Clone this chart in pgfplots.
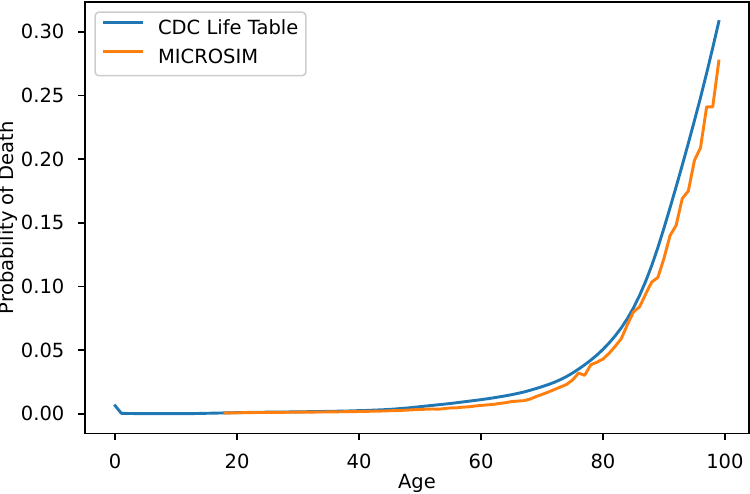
\documentclass[border=0pt]{standalone}
\usepackage{fontspec}
\setmainfont[Scale=1.04]{DejaVu Sans}
\usepackage{pgfplots}
\usepackage{pgfplotstable}
\pgfplotsset{compat=1.18}

\definecolor{tabblue}{HTML}{1F77B4}
\definecolor{taborange}{HTML}{FF7F0E}

% CDC life table, probability of death by age
\pgfplotstableread{
age q
0 0.0063
1 0.0004
2 0.00025
3 0.0002
4 0.00016
5 0.00015
6 0.00014
7 0.00013
8 0.00012
9 0.00011
10 0.00011
11 0.00012
12 0.00015
13 0.0002
14 0.0003
15 0.0004
16 0.0005
17 0.0006
18 0.0007
19 0.0008
20 0.0009
21 0.0010
22 0.0011
23 0.0012
24 0.0012
25 0.0013
26 0.0013
27 0.0014
28 0.0014
29 0.0015
30 0.0015
31 0.0016
32 0.0017
33 0.0017
34 0.0018
35 0.0019
36 0.0020
37 0.0021
38 0.0022
39 0.0023
40 0.0025
41 0.0026
42 0.0028
43 0.0030
44 0.0032
45 0.0035
46 0.0038
47 0.0042
48 0.0046
49 0.0051
50 0.0056
51 0.0061
52 0.0066
53 0.0071
54 0.0076
55 0.0081
56 0.0087
57 0.0093
58 0.0099
59 0.0105
60 0.0111
61 0.0118
62 0.0125
63 0.0133
64 0.0141
65 0.0150
66 0.0160
67 0.0171
68 0.0184
69 0.0198
70 0.0213
71 0.0229
72 0.0247
73 0.0268
74 0.0292
75 0.0320
76 0.0351
77 0.0385
78 0.0421
79 0.0461
80 0.0506
81 0.0556
82 0.0612
83 0.0675
84 0.0747
85 0.0832
86 0.0929
87 0.1040
88 0.1165
89 0.1305
90 0.1458
91 0.1618
92 0.1783
93 0.1952
94 0.2125
95 0.2302
96 0.2484
97 0.2675
98 0.2874
99 0.3080
}\cdctable

% MICROSIM simulated probability of death
\pgfplotstableread{
age q
18 0.0006
19 0.0007
20 0.0008
21 0.0009
22 0.0009
23 0.0010
24 0.0010
25 0.0011
26 0.0011
27 0.0011
28 0.0012
29 0.0012
30 0.0013
31 0.0013
32 0.0013
33 0.0014
34 0.0014
35 0.0015
36 0.0015
37 0.0016
38 0.0017
39 0.0017
40 0.0018
41 0.0019
42 0.0020
43 0.0021
44 0.0022
45 0.0024
46 0.0025
47 0.0027
48 0.0029
49 0.0032
50 0.0034
51 0.0036
52 0.0038
53 0.0036
54 0.0041
55 0.0046
56 0.0047
57 0.0052
58 0.0055
59 0.0061
60 0.0066
61 0.0070
62 0.0074
63 0.0081
64 0.0087
65 0.0096
66 0.0100
67 0.0103
68 0.0115
69 0.0135
70 0.0152
71 0.0170
72 0.0190
73 0.0210
74 0.0230
75 0.0265
76 0.0320
77 0.0302
78 0.0385
79 0.0405
80 0.0430
81 0.0475
82 0.0530
83 0.0590
84 0.0700
85 0.0800
86 0.0840
87 0.0940
88 0.1035
89 0.1070
90 0.1220
91 0.1400
92 0.1480
93 0.1690
94 0.1750
95 0.1990
96 0.2090
97 0.2410
98 0.2410
99 0.2770
}\simtable

\begin{document}
\begin{tikzpicture}
\begin{axis}[
    name=ax,
    scale only axis,
    width=354pt, height=230pt,
    xmin=-4.95, xmax=103.95,
    ymin=-0.0154, ymax=0.3234,
    xtick={0,20,40,60,80,100},
    ytick={0,0.05,0.10,0.15,0.20,0.25,0.30},
    scaled y ticks=false,
    y tick label style={/pgf/number format/fixed, /pgf/number format/fixed zerofill, /pgf/number format/precision=2},
    /pgf/number format/assume math mode=true,
    tick align=outside,
    major tick length=3.5pt,
    tick style={black, line width=0.8pt},
    axis line style={line width=0.8pt},
    xtick pos=bottom, ytick pos=left,
    xticklabel style={inner sep=0pt, yshift=-7.2pt},
    yticklabel style={inner sep=0pt, xshift=-7.3pt},
    xlabel={Age},
    ylabel={Probability of Death},
    xlabel style={at={(axis description cs:0.5,0)}, anchor=base, yshift=-29.3pt, inner sep=0pt},
    ylabel style={at={(axis description cs:0,0.5)}, anchor=base, yshift=37.9pt, inner sep=0pt},
    legend cell align=left,
    legend image code/.code={\draw[#1] (0pt,3.7pt) -- (20pt,3.7pt);},
    legend style={
        at={(axis description cs:0,1)}, anchor=north west, xshift=5pt, yshift=-5pt,
        draw=white!80!black, line width=0.8pt, rounded corners=2pt,
        fill=white, fill opacity=0.8, text opacity=1,
        inner xsep=4pt, inner ysep=4pt,
        row sep=5.5pt, column sep=8pt,
        nodes={inner sep=0pt, text height=7.8pt, text depth=2.4pt},
    },
]
\addplot[tabblue, line width=1.55pt, line join=round, line cap=rect] table[x=age, y=q] {\cdctable};
\addlegendentry{CDC Life Table}
\addplot[taborange, line width=1.55pt, line join=round, line cap=rect] table[x=age, y=q] {\simtable};
\addlegendentry{MICROSIM}
\end{axis}
\pgfresetboundingbox
\path[use as bounding box] ([xshift=-45.33pt, yshift=-32pt]ax.south west) rectangle ([xshift=0.53pt, yshift=1.07pt]ax.north east);
\end{tikzpicture}
\end{document}
